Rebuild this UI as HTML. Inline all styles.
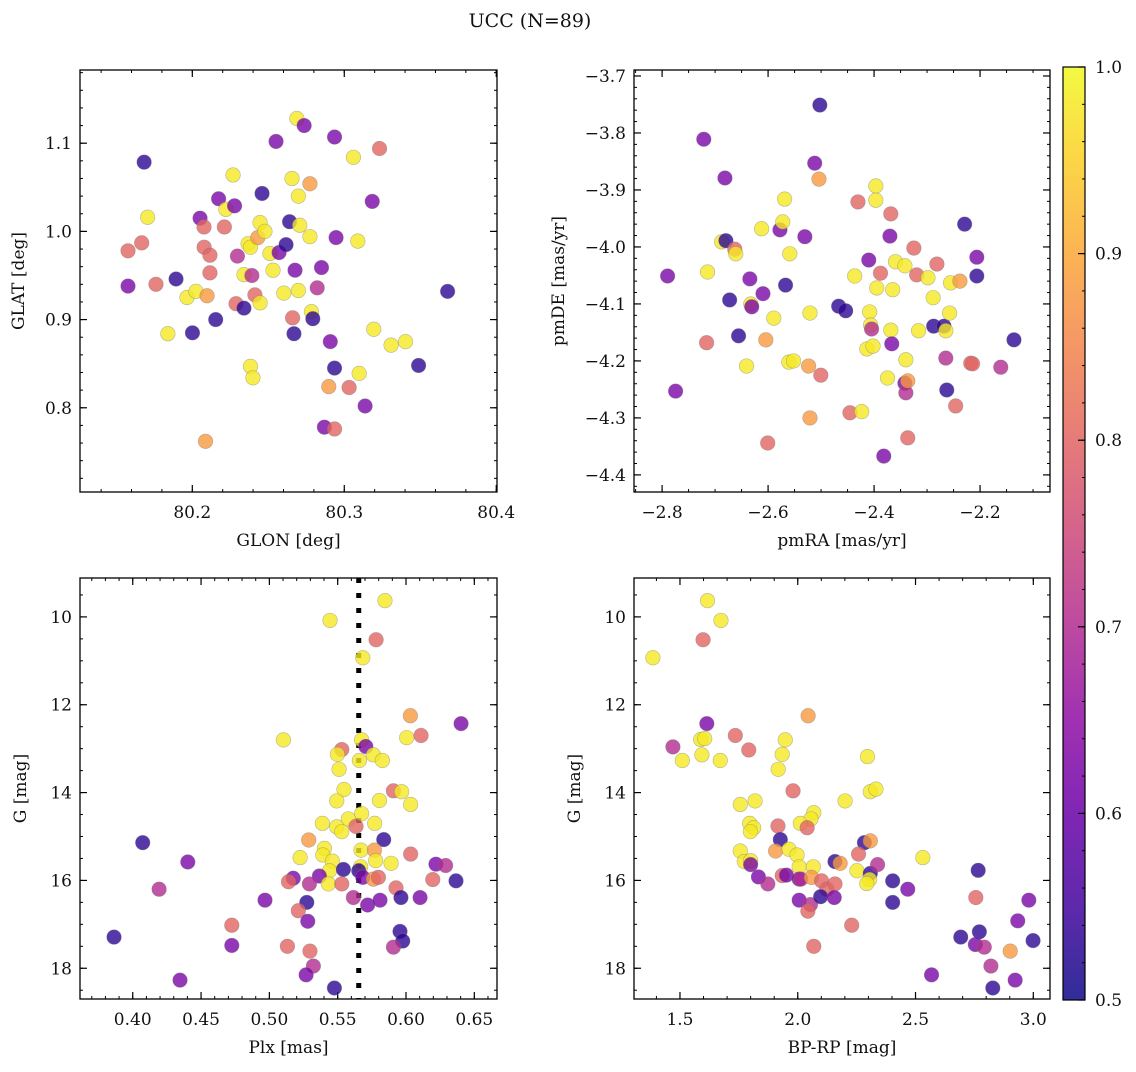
<!DOCTYPE html>
<html><head><meta charset="utf-8"><style>
html,body{margin:0;padding:0;background:#fff;}
svg text{font-family:"DejaVu Serif","Liberation Serif",serif;fill:#111;}
</style></head><body>
<svg id="fig" width="1136" height="1067" viewBox="0 0 1136 1067" xmlns="http://www.w3.org/2000/svg">
<defs><linearGradient id="cbgrad" x1="0" y1="1" x2="0" y2="0">
<stop offset="0" stop-color="#0d0887"/><stop offset="0.1" stop-color="#41049d"/><stop offset="0.2" stop-color="#6a00a8"/><stop offset="0.3" stop-color="#8f0da4"/><stop offset="0.4" stop-color="#b12a90"/><stop offset="0.5" stop-color="#cc4778"/><stop offset="0.6" stop-color="#e16462"/><stop offset="0.7" stop-color="#f2844b"/><stop offset="0.8" stop-color="#fca636"/><stop offset="0.9" stop-color="#fcce25"/><stop offset="1" stop-color="#f0f921"/>
</linearGradient></defs>
<text x="530" y="27" text-anchor="middle" font-size="19">UCC (N=89)</text>
</svg>
<script>
// Panel 1: GLON / GLAT
const glon=[80.1577,80.1683,80.1577,80.1667,80.1706,80.1761,80.1893,80.1839,80.1965,80.2001,80.2024,80.2051,80.2077,80.2078,80.2097,80.2116,80.2116,80.2154,80.2173,80.2087,80.2211,80.2221,80.2268,80.2278,80.2297,80.2288,80.2340,80.2340,80.2367,80.2383,80.2383,80.2399,80.2392,80.2412,80.2431,80.2446,80.2446,80.2459,80.2478,80.2511,80.2531,80.2551,80.2571,80.2602,80.2617,80.2640,80.2656,80.2660,80.2669,80.2676,80.2688,80.2698,80.2707,80.2698,80.2736,80.2774,80.2774,80.2784,80.2793,80.2822,80.2850,80.2869,80.2898,80.2908,80.2936,80.2946,80.2936,80.2936,80.3032,80.3060,80.3089,80.3098,80.3137,80.3184,80.3194,80.3232,80.3308,80.3403,80.3489,80.3680];
const glat=[0.938,1.0785,0.978,0.987,1.016,0.940,0.946,0.884,0.925,0.885,0.932,1.015,1.005,0.982,0.927,0.973,0.953,0.900,1.037,0.762,1.005,1.025,1.064,1.029,0.972,0.918,0.913,0.951,0.986,0.982,0.847,0.834,0.950,0.928,0.993,1.010,0.919,1.043,1.000,0.975,0.956,1.102,0.976,0.930,0.985,1.011,1.060,0.902,0.884,0.956,1.128,1.040,1.007,0.933,1.120,1.054,0.994,0.909,0.901,0.936,0.959,0.778,0.824,0.875,1.107,0.993,0.845,0.776,0.823,1.084,0.989,0.839,0.802,1.034,0.889,1.094,0.871,0.875,0.848,0.932];
const prob1="PISSYSIYYIYPSSOSSIPOSYYPMSIYYYYYMSOYYIYYYPPYIIYSIPYYYYPOYYIMPPOPPPISSYYYPPYSYYII";
// Panel 2: pmRA / pmDE
const pmra=[-2.7896,-2.7745,-2.7213,-2.7160,-2.7142,-2.6876,-2.6814,-2.6796,-2.6725,-2.6628,-2.6610,-2.6557,-2.6406,-2.6344,-2.6326,-2.6308,-2.6096,-2.6122,-2.6042,-2.6007,-2.5892,-2.5776,-2.5723,-2.5688,-2.5670,-2.5608,-2.5590,-2.5519,-2.5306,-2.5235,-2.5209,-2.5209,-2.5120,-2.5040,-2.5023,-2.5005,-2.4668,-2.4535,-2.4455,-2.4366,-2.4304,-2.4233,-2.4136,-2.4100,-2.4083,-2.4065,-2.4047,-2.4020,-2.3967,-2.3967,-2.3949,-2.3879,-2.3817,-2.3746,-2.3701,-2.3684,-2.3684,-2.3666,-2.3648,-2.3595,-2.3418,-2.3400,-2.3418,-2.3400,-2.3364,-2.3364,-2.3249,-2.3196,-2.3160,-2.2983,-2.2885,-2.2814,-2.2876,-2.2681,-2.2646,-2.2575,-2.2628,-2.2646,-2.2557,-2.2460,-2.2380,-2.2291,-2.2176,-2.2141,-2.2061,-2.2061,-2.1609,-2.1360];
const pmde=[-4.051,-4.253,-3.811,-4.168,-4.044,-3.991,-3.879,-3.989,-4.093,-4.004,-4.012,-4.156,-4.209,-4.056,-4.100,-4.105,-4.082,-3.968,-4.163,-4.344,-4.125,-3.970,-3.956,-3.916,-4.067,-4.202,-4.012,-4.200,-3.982,-4.209,-4.300,-4.116,-3.853,-3.881,-3.751,-4.225,-4.104,-4.112,-4.291,-4.051,-3.921,-4.289,-4.179,-4.023,-4.114,-4.137,-4.144,-4.174,-3.893,-3.918,-4.072,-4.046,-4.367,-4.230,-3.981,-3.942,-4.146,-4.170,-4.075,-4.026,-4.033,-4.198,-4.239,-4.256,-4.235,-4.335,-4.002,-4.049,-4.147,-4.054,-4.089,-4.030,-4.139,-4.139,-4.147,-4.116,-4.251,-4.195,-4.063,-4.279,-4.060,-3.960,-4.204,-4.205,-4.018,-4.051,-4.211,-4.163];
const prob2="PPPSYYPIISYIYPYPPYOSYPYYIYYYPOOYPOISIISYSYYPYYMYYYYSPYPSYPYYYYPMOSSSYYYSIIYYIMYSOISSPIMI";
// Panel 3: Plx / G
const plx=[0.5846,0.5444,0.5781,0.5684,0.6032,0.6403,0.5103,0.6005,0.6110,0.5675,0.5706,0.5530,0.5498,0.5761,0.5827,0.5659,0.5510,0.5546,0.5493,0.5908,0.5968,0.5806,0.6034,0.5675,0.5578,0.5388,0.5771,0.5493,0.5634,0.5530,0.5288,0.5837,0.5403,0.5671,0.5769,0.5391,0.6034,0.5225,0.5461,0.5778,0.5891,0.6219,0.6290,0.5440,0.5542,0.5668,0.5654,0.5175,0.5140,0.5366,0.5293,0.5432,0.5530,0.5684,0.5761,0.5798,0.6196,0.6366,0.5927,0.5963,0.6103,0.4968,0.5274,0.5615,0.5719,0.5810,0.5212,0.5281,0.4725,0.5956,0.5976,0.5908,0.3863,0.4725,0.5132,0.5297,0.5322,0.5269,0.4346,0.5476,0.4073,0.4403,0.4193];
const gmag3=[9.63,10.08,10.52,10.93,12.25,12.43,12.80,12.75,12.70,12.80,12.95,13.02,13.13,13.14,13.27,13.27,13.47,13.93,14.19,13.96,13.98,14.18,14.27,14.48,14.60,14.70,14.70,14.78,14.77,14.89,15.08,15.07,15.27,15.31,15.31,15.42,15.40,15.48,15.56,15.55,15.61,15.63,15.66,15.78,15.75,15.69,15.78,15.95,16.03,15.90,16.08,16.08,16.08,15.93,15.97,15.93,15.98,16.01,16.17,16.39,16.39,16.45,16.50,16.39,16.56,16.45,16.69,16.93,17.02,17.16,17.38,17.52,17.29,17.48,17.50,17.61,17.95,18.15,18.27,18.45,15.14,15.58,16.20];
const prob3="YYSYOPYYSYPSYYYYYYYSYYYYYYYYSYOIYYOYSYYYYPMYIYIPSPMYSPOSSISIPPIMPPSPSIIMIPSSMPPIIPM";
const plxRef=0.5654;
// Panel 4: BP-RP / G
const bprp=[1.385,1.617,1.674,1.598,2.044,1.614,1.470,1.588,1.605,1.510,1.593,1.671,1.735,1.792,1.947,1.934,1.917,2.296,1.980,2.201,2.308,2.332,1.756,1.819,1.796,1.813,1.799,1.916,2.068,2.056,2.011,2.04,1.926,2.283,2.308,1.756,1.906,1.963,1.997,1.773,1.80,1.80,2.006,2.066,2.158,2.18,2.258,2.251,2.308,2.339,1.833,1.873,1.934,1.952,2.006,2.013,2.058,2.101,2.123,2.158,2.305,2.293,2.403,2.467,2.006,2.054,2.097,2.155,2.043,2.403,2.531,2.229,2.068,2.766,2.756,2.981,2.934,2.692,2.771,2.754,2.792,2.999,2.902,2.82,2.568,2.923,2.828];
const gmag4=[10.93,9.63,10.08,10.52,12.25,12.43,12.96,12.79,12.77,13.27,13.14,13.27,12.70,13.03,12.80,13.13,13.47,13.18,13.96,14.19,13.98,13.92,14.27,14.19,14.70,14.80,14.89,14.76,14.46,14.60,14.70,14.80,15.07,15.14,15.10,15.33,15.33,15.29,15.42,15.57,15.55,15.64,15.69,15.69,15.57,15.61,15.40,15.78,15.84,15.64,15.92,16.08,15.89,15.88,15.97,15.97,15.93,16.01,16.20,16.08,15.98,16.07,16.01,16.20,16.45,16.55,16.37,16.39,16.70,16.50,15.48,17.02,17.50,15.77,16.39,16.45,16.92,17.29,17.17,17.46,17.52,17.37,17.61,17.95,18.15,18.27,18.45];
const prob4="YYYSOPMYYYYYSSYYYYSYYYYYYYYSYYYSIIOYOYYYYPYYIOSYIMPMSPPMOSSSYYIPPMIPSIYSSISPPIIPMIOMPPI";
const cbTicks=[0.5,0.6,0.7,0.8,0.9,1.0];

const NS="http://www.w3.org/2000/svg";
const svg=document.getElementById('fig');
const PV={I:0.53,P:0.62,M:0.70,S:0.80,O:0.88,Y:0.98};
const stops=[[13,8,135],[65,4,157],[106,0,168],[143,13,164],[177,42,144],[204,71,120],[225,100,98],[242,132,75],[252,166,54],[252,206,37],[240,249,33]];
function plasma(p){let t=Math.max(0,Math.min(1,(p-0.5)/0.5))*10;let i=Math.min(9,Math.floor(t));let f=t-i;
 const a=stops[i],b=stops[i+1];return 'rgb('+[0,1,2].map(k=>Math.round(a[k]+(b[k]-a[k])*f)).join(',')+')';}
function mk(tag,attrs,parent){const e=document.createElementNS(NS,tag);for(const k in attrs)e.setAttribute(k,attrs[k]);(parent||svg).appendChild(e);return e;}
function fmt(v,d){return (v<0?'\u2212':'')+Math.abs(v).toFixed(d);}

function panel(cfg){
 const {x0,y0,x1,y1,xmin,xmax,ymin,ymax,name}=cfg;
 const g=mk('g',{});
 
 
 const sx=v=>x0+(v-xmin)/(xmax-xmin)*(x1-x0);
 const sy=v=>y1-(v-ymin)/(ymax-ymin)*(y1-y0);
 const eps=1e-9;
 function ticks(lo,hi,step){const out=[];let s=Math.ceil((Math.min(lo,hi)-eps)/step);for(let v=s*step;v<=Math.max(lo,hi)+eps;v+=step)out.push(+v.toFixed(6));return out;}
 ticks(xmin,xmax,cfg.xminor).forEach(v=>{const x=sx(v);mk('line',{x1:x,y1:y1,x2:x,y2:y1-3,stroke:'#000','stroke-width':1},g);mk('line',{x1:x,y1:y0,x2:x,y2:y0+3,stroke:'#000','stroke-width':1},g);});
 ticks(ymin,ymax,cfg.yminor).forEach(v=>{const y=sy(v);mk('line',{x1:x0,y1:y,x2:x0+3,y2:y,stroke:'#000','stroke-width':1},g);mk('line',{x1:x1,y1:y,x2:x1-3,y2:y,stroke:'#000','stroke-width':1},g);});
 ticks(xmin,xmax,cfg.xmajor).forEach(v=>{const x=sx(v);mk('line',{x1:x,y1:y1,x2:x,y2:y1-7,stroke:'#000','stroke-width':1.2},g);mk('line',{x1:x,y1:y0,x2:x,y2:y0+7,stroke:'#000','stroke-width':1.2},g);
   const t=mk('text',{x:x,y:y1+26,'text-anchor':'middle','font-size':17},g);t.textContent=fmt(v,cfg.xd);
   
   });
 ticks(ymin,ymax,cfg.ymajor).forEach(v=>{const y=sy(v);mk('line',{x1:x0,y1:y,x2:x0+7,y2:y,stroke:'#000','stroke-width':1.2},g);mk('line',{x1:x1,y1:y,x2:x1-7,y2:y,stroke:'#000','stroke-width':1.2},g);
   const t=mk('text',{x:x0-8,y:y+6,'text-anchor':'end','font-size':17},g);t.textContent=fmt(v,cfg.yd);
   
   });
 if(cfg.vline!==undefined){const l=mk('line',{x1:sx(cfg.vline),x2:sx(cfg.vline),y1:y0,y2:y1,stroke:'#000','stroke-width':5,'stroke-dasharray':'5 10'},g);
   
   }
 for(let i=0;i<cfg.xs.length;i++){
   const c=mk('circle',{cx:sx(cfg.xs[i]),cy:sy(cfg.ys[i]),r:7.3,fill:plasma(PV[cfg.ps[i]]),'fill-opacity':0.8,stroke:'#777','stroke-opacity':0.5,'stroke-width':0.6},g);
   
   
 }
 const fr=mk('rect',{x:x0,y:y0,width:x1-x0,height:y1-y0,fill:'none',stroke:'#000','stroke-width':1.3},g);
 
 
 const xl=mk('text',{x:(x0+x1)/2,y:y1+54,'text-anchor':'middle','font-size':17},g);xl.textContent=cfg.xlabel;
 
 
 const yx=cfg.ylx,yy=(y0+y1)/2;
 const yl=mk('text',{x:yx,y:yy,'text-anchor':'middle','font-size':17,transform:'rotate(-90 '+yx+' '+yy+')'},g);yl.textContent=cfg.ylabel;
 
 
}
panel({name:'glon-glat-panel',x0:80,y0:70,x1:497,y1:492,xmin:80.1261,xmax:80.4005,ymin:0.7045,ymax:1.183,xmajor:0.1,xminor:0.02,ymajor:0.1,yminor:0.02,xd:1,yd:1,xs:glon,ys:glat,ps:prob1,xlabel:'GLON [deg]',ylabel:'GLAT [deg]',ylx:24});
panel({name:'proper-motion-panel',x0:634,y0:70,x1:1050,y1:492,xmin:-2.853,xmax:-2.068,ymin:-4.43,ymax:-3.6895,xmajor:0.2,xminor:0.05,ymajor:0.1,yminor:0.02,xd:1,yd:1,xs:pmra,ys:pmde,ps:prob2,xlabel:'pmRA [mas/yr]',ylabel:'pmDE [mas/yr]',ylx:564});
panel({name:'plx-g-panel',x0:80,y0:578,x1:497,y1:999,xmin:0.3614,xmax:0.6666,ymin:18.70,ymax:9.114,xmajor:0.05,xminor:0.01,ymajor:2,yminor:0.5,xd:2,yd:0,xs:plx,ys:gmag3,ps:prob3,vline:plxRef,xlabel:'Plx [mas]',ylabel:'G [mag]',ylx:26});
panel({name:'cmd-panel',x0:634,y0:578,x1:1050,y1:999,xmin:1.3048,xmax:3.0709,ymin:18.70,ymax:9.114,xmajor:0.5,xminor:0.1,ymajor:2,yminor:0.5,xd:1,yd:0,xs:bprp,ys:gmag4,ps:prob4,xlabel:'BP-RP [mag]',ylabel:'G [mag]',ylx:580});

// colorbar
const cb=mk('g',{});


const cx0=1063,cx1=1085,cy0=67,cy1=1000;
const cby=v=>cy1-(v-0.5)/0.5*(cy1-cy0);
mk('rect',{x:cx0,y:cy0,width:cx1-cx0,height:cy1-cy0,fill:'url(#cbgrad)','fill-opacity':0.85,stroke:'#000','stroke-width':1.2},cb);
for(let k=0;k<=25;k++){const v=0.5+k*0.02;const y=cby(v);mk('line',{x1:cx1,x2:cx1-3,y1:y,y2:y,stroke:'#000','stroke-width':1},cb);}
cbTicks.forEach(v=>{const y=cby(v);mk('line',{x1:cx1,x2:cx1-7,y1:y,y2:y,stroke:'#000','stroke-width':1.2},cb);
 const t=mk('text',{x:cx1+10,y:y+6,'font-size':17},cb);t.textContent=v.toFixed(1);
 
 });
</script>
</body></html>
